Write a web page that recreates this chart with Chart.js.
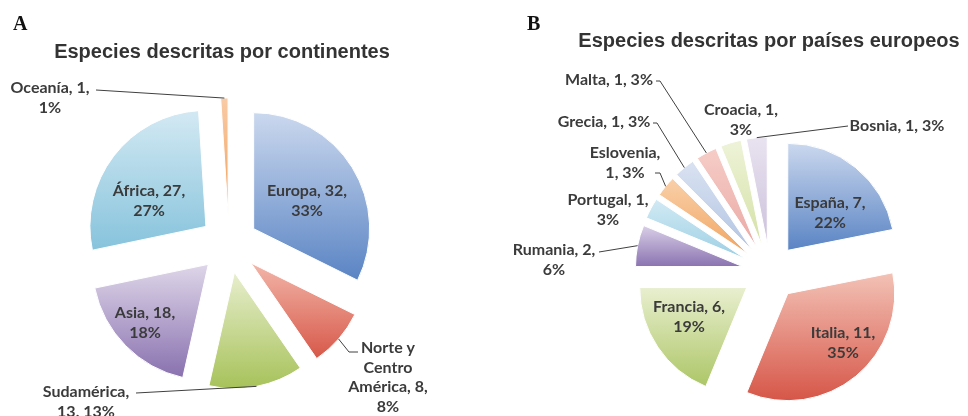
<!DOCTYPE html>
<html lang="es">
<head>
<meta charset="utf-8">
<script src="https://cdn.jsdelivr.net/npm/chart.js@4.4.1/dist/chart.umd.min.js"></script>
<style>
  html, body { margin: 0; padding: 0; background: #fff; }
  #lienzo { position: relative; width: 968px; height: 416px; overflow: hidden; }
  .panel { position: absolute; top: 0; width: 484px; height: 416px; }
  #panelA { left: 0; }
  #panelB { left: 484px; }
  .letra { position: absolute; top: 13px; font: bold 20px/20px "Liberation Serif", serif; color: #111; }
</style>
</head>
<body>
<div id="lienzo">
  <div class="panel" id="panelA"><canvas id="graficoA"></canvas></div>
  <div class="panel" id="panelB"><canvas id="graficoB"></canvas></div>
  <div class="letra" style="left:13px">A</div>
  <div class="letra" style="left:527px">B</div>
</div>
<script>
// Panel A: especies por continente
const continentes = ['Europa', 'Norte y Centro América', 'Sudamérica', 'Asia', 'África', 'Oceanía'];
const especiesContinente = [32, 8, 13, 18, 27, 1];
const porcentajeContinente = [33, 8, 13, 18, 27, 1];

// Panel B: especies por país europeo
const paises = ['España', 'Italia', 'Francia', 'Rumania', 'Portugal', 'Eslovenia', 'Grecia', 'Malta', 'Croacia', 'Bosnia'];
const especiesPais = [7, 11, 6, 2, 1, 1, 1, 1, 1, 1];
const porcentajePais = [22, 35, 19, 6, 3, 3, 3, 3, 3, 3];

// Colores de cada porción: [claro arriba, oscuro abajo]
const coloresA = [
  ['#cbd8ee', '#5a84c4'], ['#f2b6a9', '#d75849'], ['#e7eecd', '#a7c25a'],
  ['#ded6e9', '#8971af'], ['#d3e9f3', '#86c3dc'], ['#f9cba6', '#f19f58']
];
const coloresB = [
  ['#cbd8ee', '#5a84c4'], ['#f3c2b6', '#d65648'], ['#e8efcf', '#adc667'],
  ['#d9cfe7', '#8b73b1'], ['#d2eaf4', '#9ccfe4'], ['#f9d0aa', '#f1a561'],
  ['#d9e2f1', '#b3c5e3'], ['#f6cdc8', '#eba9a4'], ['#eef3d8', '#d4e1a6'],
  ['#e9e3f0', '#ccc1dc']
];

const fuenteEtiqueta = 'bold 16px "Lato", "DejaVu Sans", sans-serif';
const fuenteTitulo = 'bold 20px "Liberation Sans", Arial, sans-serif';
const colorTexto = '#3b3b3b';

// Geometría de una porción (ángulos como los calcula Chart.js)
function porcion(chart, i, sep) {
  const area = chart.chartArea;
  const datos = chart.data.datasets[0].data;
  const total = datos.reduce((a, b) => a + b, 0);
  let ini = -Math.PI / 2;
  for (let k = 0; k < i; k++) ini += datos[k] / total * Math.PI * 2;
  const fin = ini + datos[i] / total * Math.PI * 2;
  const med = (ini + fin) / 2;
  return {
    ini, fin,
    cx: (area.left + area.right) / 2 + Math.cos(med) * sep,
    cy: (area.top + area.bottom) / 2 + Math.sin(med) * sep
  };
}

// Degradado vertical por porción, de claro a oscuro
function degradado(colores, radio, sep) {
  return (context) => {
    const chart = context.chart;
    const i = context.dataIndex;
    if (!chart.chartArea || i === undefined) return colores[0][1];
    const g = porcion(chart, i, sep[i]);
    let arriba = g.cy, abajo = g.cy;
    for (let t = 0; t <= 30; t++) {
      const y = g.cy + Math.sin(g.ini + (g.fin - g.ini) * t / 30) * radio;
      arriba = Math.min(arriba, y);
      abajo = Math.max(abajo, y);
    }
    const grad = chart.ctx.createLinearGradient(0, arriba, 0, abajo);
    grad.addColorStop(0, colores[i][0]);
    grad.addColorStop(1, colores[i][1]);
    return grad;
  };
}

// Reparte las palabras del texto según cuántas van en cada línea
function partir(texto, reparto) {
  const palabras = texto.split(' ');
  const lineas = [];
  let k = 0;
  reparto.forEach(n => {
    lineas.push(palabras.slice(k, k + n).join(' '));
    k += n;
  });
  return lineas;
}

// Plugin: separa las porciones, escribe título, etiquetas y líneas guía
function plugin(cfg) {
  return {
    id: 'pastelExcel',
    afterDatasetsUpdate(chart) {
      chart.getDatasetMeta(0).data.forEach((arc, i) => {
        const med = (arc.startAngle + arc.endAngle) / 2;
        arc.x += Math.cos(med) * cfg.sep[i];
        arc.y += Math.sin(med) * cfg.sep[i];
      });
    },
    afterDatasetsDraw(chart) {
      const ctx = chart.ctx;
      ctx.save();
      ctx.font = fuenteTitulo;
      ctx.fillStyle = '#333';
      ctx.textAlign = 'center';
      ctx.textBaseline = 'alphabetic';
      ctx.fillText(cfg.titulo, cfg.tituloX, cfg.tituloY);

      ctx.font = fuenteEtiqueta;
      ctx.textBaseline = 'middle';
      ctx.strokeStyle = '#404040';
      ctx.lineWidth = 1;
      chart.getDatasetMeta(0).data.forEach((arc, i) => {
        const med = (arc.startAngle + arc.endAngle) / 2;
        const guia = cfg.guias[i];
        if (guia) {
          ctx.beginPath();
          ctx.moveTo(guia[0][0], guia[0][1]);
          guia.slice(1).forEach(p => ctx.lineTo(p[0], p[1]));
          ctx.lineTo(arc.x + Math.cos(med) * arc.outerRadius, arc.y + Math.sin(med) * arc.outerRadius);
          ctx.stroke();
        }
        const texto = `${cfg.nombres[i]}, ${cfg.valores[i]}, ${cfg.porcentajes[i]}%`;
        const lineas = partir(texto, cfg.lineas[i]);
        const [x, y] = cfg.posiciones[i];
        ctx.fillStyle = colorTexto;
        lineas.forEach((l, k) => ctx.fillText(l, x, y + k * 19.5));
      });
      ctx.restore();
    }
  };
}

function crearPastel(id, cfg) {
  new Chart(document.getElementById(id), {
    type: 'pie',
    data: {
      labels: cfg.nombres,
      datasets: [{
        data: cfg.valores,
        backgroundColor: degradado(cfg.colores, cfg.radio, cfg.sep),
        borderColor: '#ffffff',
        borderWidth: 1
      }]
    },
    options: {
      responsive: true,
      maintainAspectRatio: false,
      animation: false,
      radius: cfg.radio,
      layout: { padding: cfg.relleno },
      plugins: { legend: { display: false }, tooltip: { enabled: false } },
      events: []
    },
    plugins: [plugin(cfg)]
  });
}

crearPastel('graficoA', {
  nombres: continentes,
  valores: especiesContinente,
  porcentajes: porcentajeContinente,
  colores: coloresA,
  radio: 116,
  sep: [29, 29, 29, 29, 29, 30],
  relleno: { left: 0, right: 26, top: 72, bottom: 0 },
  titulo: 'Especies descritas por continentes',
  tituloX: 222, tituloY: 58,
  posiciones: [[307, 191], [388, 348], [86, 392], [145, 313], [149, 191], [50, 88]],
  lineas: [[2, 1], [2, 1, 2, 1], [1, 2], [2, 1], [2, 1], [2, 1]],
  guias: [null, [[358, 352], [349, 352]], [[136, 393]], null, null, [[96, 90]]]
});

crearPastel('graficoB', {
  nombres: paises,
  valores: especiesPais,
  porcentajes: porcentajePais,
  colores: coloresB,
  radio: 107,
  sep: [28, 28, 28, 28, 28, 28, 28, 28, 28, 28],
  relleno: { left: 88, right: 0, top: 128, bottom: 0 },
  titulo: 'Especies descritas por países europeos',
  tituloX: 285, tituloY: 47,
  posiciones: [[346, 203], [359, 333], [205, 307], [70, 250], [124, 200],
               [141, 153], [120, 122], [125, 80], [257, 110], [413, 126]],
  lineas: [[2, 1], [2, 1], [2, 1], [2, 1], [2, 1], [1, 2], [3], [3], [2, 1], [3]],
  guias: [null, null, null, [[115, 252]], null, [[171, 173], [176, 173]],
          [[169, 123], [173, 123]], [[172, 81], [176, 81]], null, [[364, 126]]]
});
</script>
</body>
</html>
